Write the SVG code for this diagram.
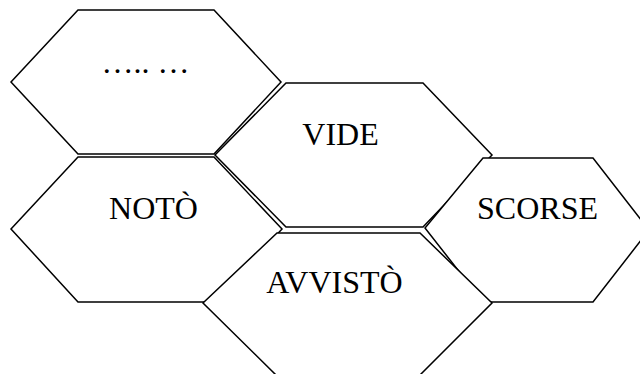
<svg xmlns="http://www.w3.org/2000/svg" width="640" height="374" viewBox="0 0 640 374">
  <style>
    .hex { fill: #ffffff; stroke: #000000; stroke-width: 1.5; stroke-linejoin: miter; }
    .lbl { font-family: "Liberation Serif", "Times New Roman", serif; font-size: 32px; fill: #000000; text-anchor: middle; }
  </style>
  <rect width="640" height="374" fill="#ffffff"/>
  <!-- honeycomb of word cells; later cells overlap earlier ones -->
  <g id="cell-dots">
    <polygon class="hex" points="78,10 214,10 281,82 214,154 78,154 11,82"/>
    <text class="lbl" x="145.5" y="73">….. …</text>
  </g>
  <g id="cell-vide">
    <polygon class="hex" points="286,83 423,83 492,155 423,227 286,227 215,155"/>
    <text class="lbl" x="340.5" y="145">VIDE</text>
  </g>
  <g id="cell-noto">
    <polygon class="hex" points="78,157 214,157 282,229 214,302 78,302 11,229"/>
    <text class="lbl" x="153.5" y="219">NOTÒ</text>
  </g>
  <g id="cell-scorse">
    <polygon class="hex" points="483,158 593,158 649,230 593,302 483,302 425,228"/>
    <text class="lbl" x="537.5" y="219">SCORSE</text>
  </g>
  <g id="cell-avvisto">
    <polygon class="hex" points="277,233 420,233 492,303 420,375 276,375 203,303"/>
    <text class="lbl" x="334.5" y="293">AVVISTÒ</text>
  </g>
  <g id="connectors"/>
</svg>
